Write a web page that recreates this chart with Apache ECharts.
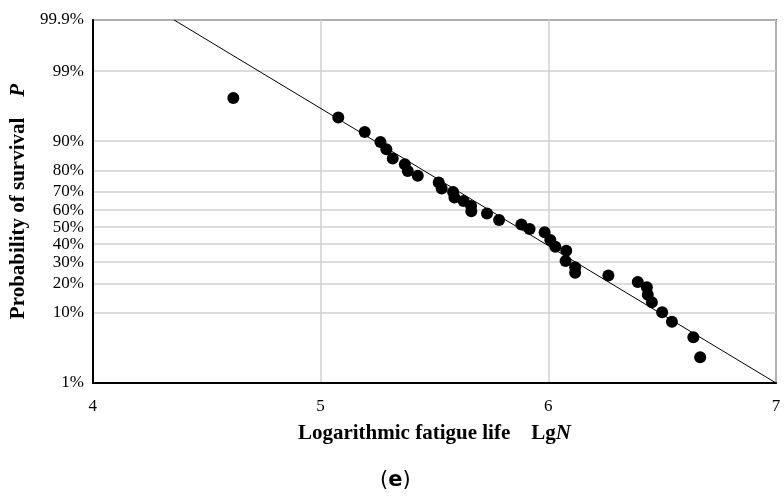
<!DOCTYPE html>
<html style="height: 100%">
   <head>
       <meta charset="utf-8">
   </head>
   <body style="height: 100%; margin: 0; background: #fff">
       <div id="container" style="width: 784px; height: 496px"></div>
       <script type="text/javascript" src="https://cdn.jsdelivr.net/npm/echarts/dist/echarts.min.js"></script>
       <script type="text/javascript">
// log fatigue life (lgN) and survival probability (%)
var lgN = [4.617, 5.078, 5.194, 5.263, 5.289, 5.317, 5.370, 5.383, 5.427, 5.519,
           5.532, 5.582, 5.588, 5.628, 5.661, 5.662, 5.731, 5.784, 5.882, 5.918,
           5.984, 6.009, 6.031, 6.079, 6.076, 6.118, 6.118, 6.264, 6.393, 6.433,
           6.437, 6.455, 6.500, 6.543, 6.637, 6.667];
var survival = [97.3, 94.9, 92.2, 89.8, 87.7, 84.7, 82.6, 79.9, 77.8, 74.7,
                71.8, 70.0, 67.1, 65.2, 62.3, 59.4, 58.1, 54.2, 51.6, 48.8,
                46.9, 42.3, 38.5, 36.2, 30.7, 27.5, 24.8, 23.5, 20.6, 18.5,
                15.6, 13.1, 10.2, 7.9, 5.0, 2.6];
// fitted line end points
var fitLgN = [4.357, 7];
var fitSurvival = [99.9, 1];
// probability axis ticks
var probTicks = [1, 10, 20, 30, 40, 50, 60, 70, 80, 90, 99, 99.9];
var probLabels = ['1%', '10%', '20%', '30%', '40%', '50%', '60%', '70%', '80%', '90%', '99%', '99.9%'];

// inverse normal cdf (Acklam), used as the probability-paper scale
function probit(p) {
    var a = [-3.969683028665376e+01, 2.209460984245205e+02, -2.759285104469687e+02, 1.383577518672690e+02, -3.066479806614716e+01, 2.506628277459239e+00];
    var b = [-5.447609879822406e+01, 1.615858368580409e+02, -1.556989798598866e+02, 6.680131188771972e+01, -1.328068155288572e+01];
    var c = [-7.784894002430293e-03, -3.223964580411365e-01, -2.400758277161838e+00, -2.549732539343734e+00, 4.374664141464968e+00, 2.938163982698783e+00];
    var d = [7.784695709041462e-03, 3.224671290700398e-01, 2.445134137142996e+00, 3.754408661907416e+00];
    var pl = 0.02425, q, r;
    if (p < pl) {
        q = Math.sqrt(-2 * Math.log(p));
        return (((((c[0]*q+c[1])*q+c[2])*q+c[3])*q+c[4])*q+c[5]) / ((((d[0]*q+d[1])*q+d[2])*q+d[3])*q+1);
    }
    if (p > 1 - pl) {
        q = Math.sqrt(-2 * Math.log(1 - p));
        return -(((((c[0]*q+c[1])*q+c[2])*q+c[3])*q+c[4])*q+c[5]) / ((((d[0]*q+d[1])*q+d[2])*q+d[3])*q+1);
    }
    q = p - 0.5; r = q * q;
    return (((((a[0]*r+a[1])*r+a[2])*r+a[3])*r+a[4])*r+a[5])*q / (((((b[0]*r+b[1])*r+b[2])*r+b[3])*r+b[4])*r+1);
}

var tickZ = probTicks.map(function (p) { return probit(p / 100); });
var points = lgN.map(function (x, i) { return [x, probit(survival[i] / 100)]; });
var fitData = fitLgN.map(function (x, i) { return [x, probit(fitSurvival[i] / 100)]; });

var serif = '"Liberation Serif", "Times New Roman", serif';

var dom = document.getElementById("container");
var myChart = echarts.init(dom);
var option = {
    backgroundColor: '#fff',
    animation: false,
    grid: {
        left: 92, right: 8, top: 20, bottom: 113,
        show: true, borderColor: '#111', borderWidth: 1.5
    },
    xAxis: {
        type: 'value',
        min: 4, max: 7, interval: 1,
        axisLine: {onZero: false, lineStyle: {color: '#000', width: 2}},
        axisTick: {show: false},
        axisLabel: {fontFamily: serif, fontSize: 17, color: '#000', margin: 15},
        splitLine: {show: true, lineStyle: {color: '#d0d0d0', width: 1.5}},
        name: 'Logarithmic fatigue life    Lg{i|N}',
        nameLocation: 'middle',
        nameGap: 40,
        nameTextStyle: {
            fontFamily: serif, fontSize: 21, fontWeight: 'bold', color: '#000',
            rich: {i: {fontFamily: serif, fontSize: 21, fontWeight: 'bold', fontStyle: 'italic', color: '#000'}}
        }
    },
    yAxis: {
        type: 'value',
        min: tickZ[0], max: tickZ[tickZ.length - 1],
        axisLine: {onZero: false, lineStyle: {color: '#000', width: 2}},
        axisTick: {show: false, customValues: tickZ},
        axisLabel: {
            customValues: tickZ,
            fontFamily: serif, fontSize: 17, color: '#000', margin: 9,
            formatter: function (v) {
                var best = 0;
                for (var i = 0; i < tickZ.length; i++) {
                    if (Math.abs(tickZ[i] - v) < Math.abs(tickZ[best] - v)) best = i;
                }
                return probLabels[best];
            }
        },
        splitLine: {show: true, lineStyle: {color: '#d0d0d0', width: 1.5}},
        name: 'Probability of survival    {i|P}',
        nameLocation: 'middle',
        nameGap: 60,
        nameRotate: 90,
        nameTextStyle: {
            fontFamily: serif, fontSize: 21, fontWeight: 'bold', color: '#000',
            rich: {i: {fontFamily: serif, fontSize: 21, fontWeight: 'bold', fontStyle: 'italic', color: '#000'}}
        }
    },
    graphic: [{
        type: 'text',
        left: 380,
        top: 470,
        style: {
            text: '({b|e})',
            font: '21px "DejaVu Sans", sans-serif',
            fill: '#000',
            rich: {b: {fontFamily: '"DejaVu Sans", sans-serif', fontSize: 21, fontWeight: 'bold', fill: '#000'}}
        }
    }],
    series: [
        {
            type: 'line',
            data: fitData,
            symbol: 'none',
            lineStyle: {color: '#000', width: 1},
            silent: true,
            z: 1
        },
        {
            type: 'scatter',
            data: points,
            symbol: 'circle',
            symbolSize: 12,
            itemStyle: {color: '#000', opacity: 1},
            z: 3
        }
    ]
};
myChart.setOption(option, true);
       </script>
   </body>
</html>
